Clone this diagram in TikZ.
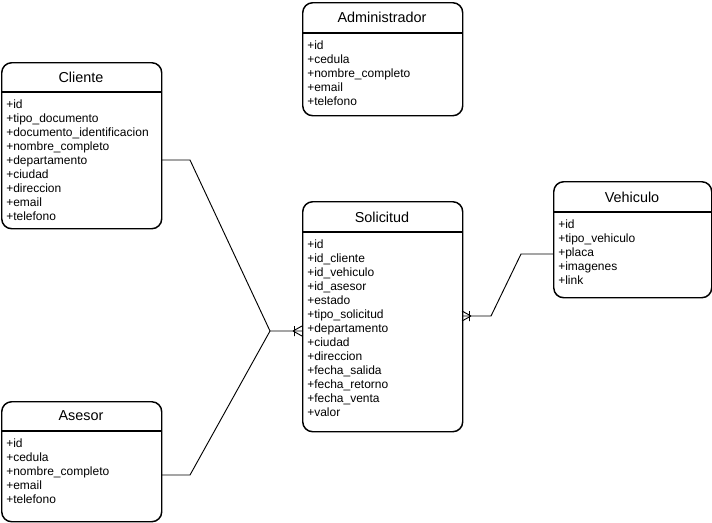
\documentclass[tikz,border=0pt]{standalone}
\usepackage{fontspec}
\setmainfont{Liberation Sans}
\begin{document}
\begin{tikzpicture}[x=0.75pt,y=-0.75pt,
  entity/.style={draw, line width=1.1pt, rounded corners=7.5pt, fill=white, anchor=north west, inner sep=0pt},
  hdr/.style={line width=0.9pt},
  ttl/.style={font=\fontsize{10.8}{12}\selectfont, inner sep=0pt},
  attrs/.style={font=\fontsize{9}{10.5}\selectfont, align=left, anchor=north west, inner sep=0pt},
  conn/.style={line width=0.7pt}
]
\path[use as bounding box] (0,0) rectangle (712,522);

% Administrador
\node[entity, minimum width=160*0.75pt, minimum height=113*0.75pt] (adm) at (302,2) {};
\draw[hdr] (302,33) -- (462,33);
\node[ttl] (admt) at (382,17) {Administrador};
\node[attrs] (adma) at (307,40.5) {+id\\+cedula\\+nombre\_completo\\+email\\+telefono};

% Cliente
\node[entity, minimum width=160*0.75pt, minimum height=166*0.75pt] (cli) at (1,62) {};
\draw[hdr] (1,92) -- (161,92);
\node[ttl] (clit) at (81,77) {Cliente};
\node[attrs] (clia) at (6,100) {+id\\+tipo\_documento\\+documento\_identificacion\\+nombre\_completo\\+departamento\\+ciudad\\+direccion\\+email\\+telefono};

% Solicitud
\node[entity, minimum width=160*0.75pt, minimum height=230*0.75pt] (sol) at (302,201) {};
\draw[hdr] (302,232) -- (462,232);
\node[ttl] (solt) at (382,217) {Solicitud};
\node[attrs] (sola) at (307,240) {+id\\+id\_cliente\\+id\_vehiculo\\+id\_asesor\\+estado\\+tipo\_solicitud\\+departamento\\+ciudad\\+direccion\\+fecha\_salida\\+fecha\_retorno\\+fecha\_venta\\+valor};

% Vehiculo
\node[entity, minimum width=158*0.75pt, minimum height=116*0.75pt] (veh) at (553,181) {};
\draw[hdr] (553,212) -- (711,212);
\node[ttl] (veht) at (632,197) {Vehiculo};
\node[attrs] (veha) at (558,220) {+id\\+tipo\_vehiculo\\+placa\\+imagenes\\+link};

% Asesor
\node[entity, minimum width=160*0.75pt, minimum height=120*0.75pt] (ase) at (1,401) {};
\draw[hdr] (1,431) -- (161,431);
\node[ttl] (aset) at (81,416) {Asesor};
\node[attrs] (asea) at (6,439) {+id\\+cedula\\+nombre\_completo\\+email\\+telefono};

% connector coordinates
\coordinate (c1) at (161,160);
\coordinate (c1b) at (190,160);
\coordinate (j) at (270,331);
\coordinate (s1) at (302,331);
\coordinate (a1) at (161,475);
\coordinate (a1b) at (190,475);
\coordinate (v1) at (553,254);
\coordinate (v1b) at (521,254);
\coordinate (v1c) at (491,316);
\coordinate (s2) at (462,316);

\draw[conn] (c1) -- (c1b) -- (j) -- (s1);
\draw[conn] (a1) -- (a1b) -- (j);
\draw[conn] (v1) -- (v1b) -- (v1c) -- (s2);

% crow's feet (many with bar)
\draw[conn] (293,331) -- (302,326) (293,331) -- (302,336) (294.5,326) -- (294.5,336);
\draw[conn] (471,316) -- (462,311) (471,316) -- (462,321) (469.5,311) -- (469.5,321);
\end{tikzpicture}
\end{document}
